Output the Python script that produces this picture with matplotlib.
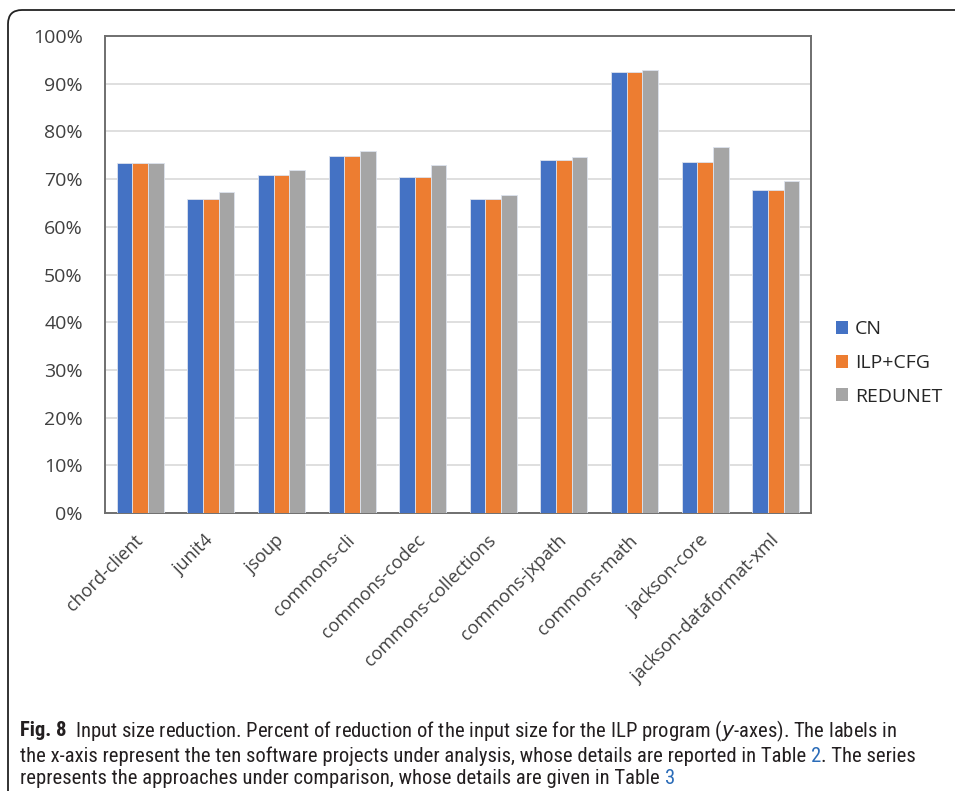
import numpy as np
import matplotlib.pyplot as plt
from matplotlib.patches import FancyBboxPatch, Patch
from matplotlib.transforms import IdentityTransform

projects = ["chord-client", "junit4", "jsoup", "commons-cli", "commons-codec",
            "commons-collections", "commons-jxpath", "commons-math",
            "jackson-core", "jackson-dataformat-xml"]
cn = [73.3, 65.8, 70.9, 74.9, 70.5, 65.8, 74.0, 92.5, 73.6, 67.8]
ilp_cfg = [73.3, 65.8, 70.9, 74.9, 70.5, 65.8, 74.0, 92.5, 73.6, 67.8]
redunet = [73.3, 67.4, 72.0, 75.8, 72.9, 66.7, 74.7, 92.9, 76.7, 69.6]
series = ["CN", "ILP+CFG", "REDUNET"]
colors = ["#4472C4", "#ED7D31", "#A5A5A5"]

cap1 = ("Input size reduction. Percent of reduction of the input size for the ILP program "
        "($\\it{y}$-axes). The labels in")
cap2a = "the x-axis represent the ten software projects under analysis, whose details are reported in Table "
cap2b = ". The series"
cap3 = "represents the approaches under comparison, whose details are given in Table "

plt.rcParams['font.family'] = ['Open Sans', 'DejaVu Sans']
W, H = 955, 791
fig = plt.figure(figsize=(W / 100, H / 100), dpi=100)

# rounded caption box (cut at right and bottom)
box = FancyBboxPatch((8, -60), 1100, H - 10 + 60,
                     boxstyle="round,pad=0,rounding_size=14",
                     transform=IdentityTransform(), facecolor="none",
                     edgecolor="#222222", linewidth=1.3)
fig.add_artist(box)

ax = fig.add_axes([105 / W, 1 - 513 / H, (811 - 105) / W, (513 - 36) / H])
x = np.arange(len(projects))
bw = 0.222
for i, (vals, c) in enumerate(zip([cn, ilp_cfg, redunet], colors)):
    ax.bar(x + (i - 1) * bw, vals, bw, color=c, edgecolor="#dde3ee",
           linewidth=0.6, zorder=3)

ax.set_xlim(-0.5, len(projects) - 0.5)
ax.set_ylim(0, 100)
ax.set_yticks(np.arange(0, 101, 10))
ax.set_yticklabels([f"{v}%" for v in range(0, 101, 10)])
ax.yaxis.grid(True, color="#d9d9d9", linewidth=1.2, zorder=0)
ax.set_xticks(x)
ax.set_xticklabels(projects, rotation=45, ha="right", va="center", rotation_mode="anchor")
ax.tick_params(axis="y", length=0, pad=16, labelsize=14, labelcolor="#404040")
ax.tick_params(axis="x", length=0, pad=18, labelsize=13, labelcolor="#404040")
for s in ax.spines.values():
    s.set_color("#6f6f6f")
    s.set_linewidth(1.4)

handles = [Patch(facecolor=c, edgecolor="none") for c in colors]
fig.legend(handles, series, loc="center left", bbox_to_anchor=(818 / W, 1 - 363 / H),
           frameon=False, fontsize=14, handlelength=0.65, handleheight=0.65,
           handletextpad=0.35, labelspacing=0.8, labelcolor="#262626")

# caption: fit the font size so the second line spans the box like the reference
cfam = ['Liberation Sans Narrow', 'Roboto Condensed', 'DejaVu Sans']
probe = fig.text(0, 0, cap2a + "2" + cap2b, family=cfam, fontsize=12, stretch="condensed")
fig.canvas.draw()
fs = 12 * 893 / probe.get_window_extent().width
probe.remove()
cfont = dict(family=cfam, fontsize=fs, stretch="condensed", color="#231f20", va="center")
blue = "#2b6cb8"


def put(xpx, ypx, s, **kw):
    t = fig.text(xpx / W, 1 - ypx / H, s, **{**cfont, **kw})
    fig.canvas.draw()
    return t.get_window_extent().x1


e = put(20, 731, "Fig. 8", fontweight="bold")
put(e + 8, 731, cap1)
e = put(20, 756, cap2a)
e = put(e, 756, "2", color=blue)
put(e, 756, cap2b)
e = put(20, 779, cap3)
put(e, 779, "3", color=blue)

fig.savefig("out.png", dpi=100)
